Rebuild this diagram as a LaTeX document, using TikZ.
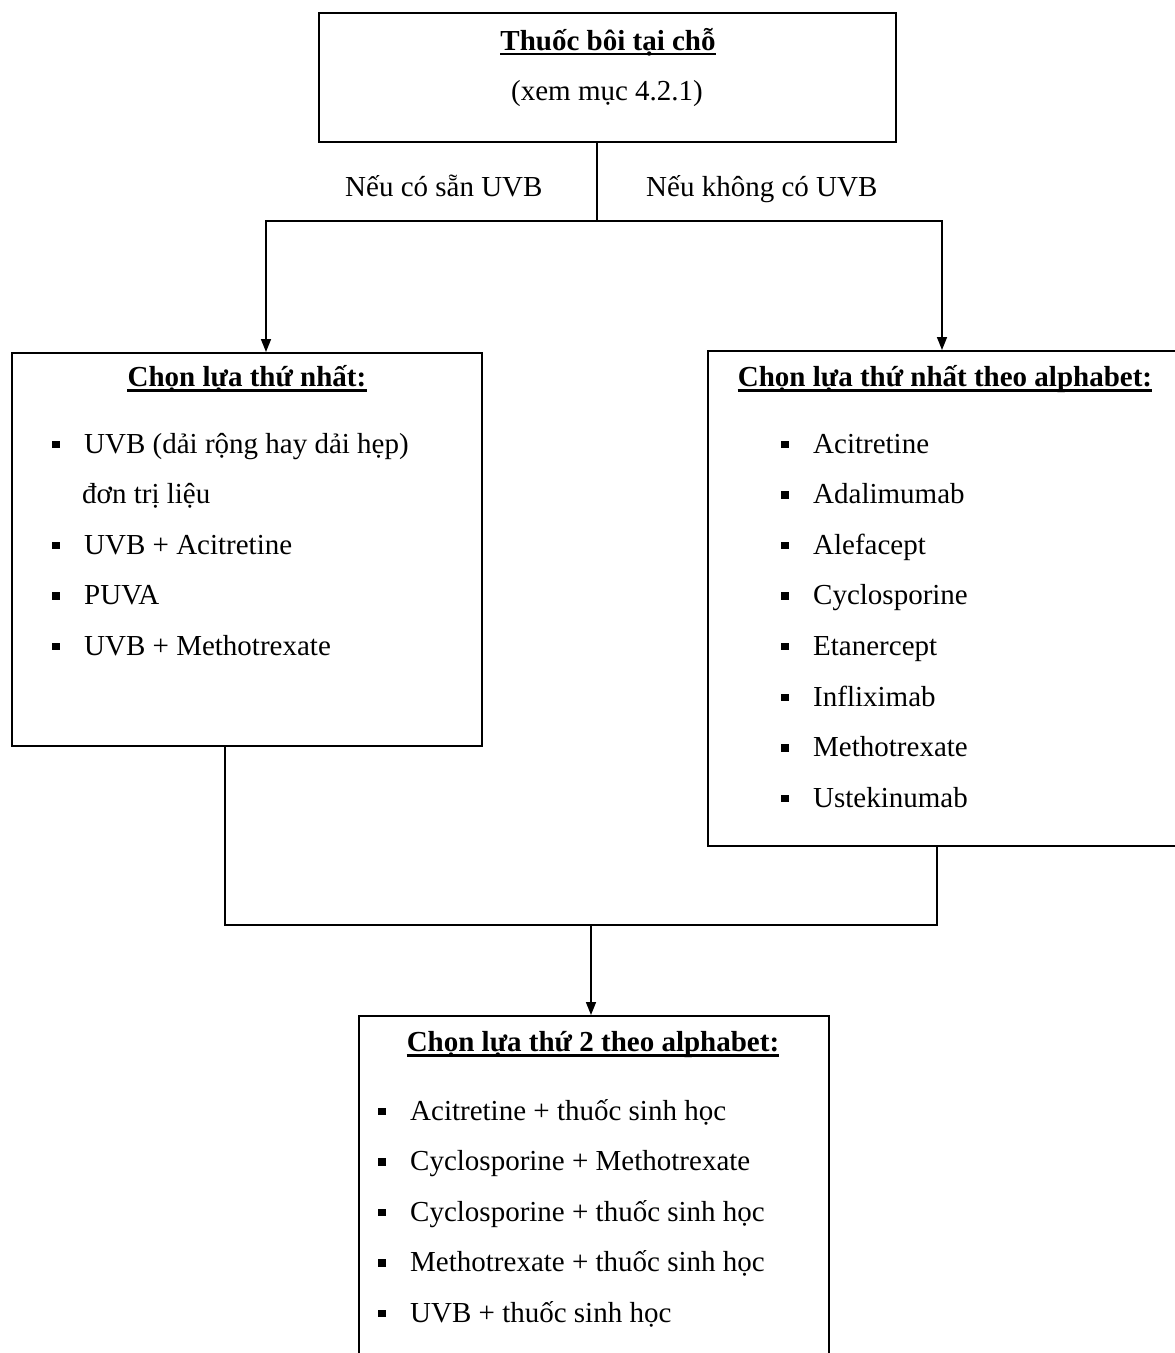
\documentclass[tikz,border=0pt]{standalone}
\usepackage{fontspec}
\setmainfont{Liberation Serif}
\usetikzlibrary{arrows.meta,calc,positioning}
\newcommand{\sqb}{\makebox[32pt][l]{\rule[5pt]{7.5pt}{7.5pt}}}
\tikzset{
  box/.style={draw, line width=1.6pt, inner sep=0pt, anchor=north west},
  head/.style={font=\fontsize{29}{35}\selectfont\bfseries, inner sep=0pt, anchor=base},
  entry/.style={font=\fontsize{29}{35}\selectfont, inner sep=0pt, anchor=base west},
  uline/.style={line width=2.2pt},
  link/.style={line width=1.6pt},
  linkarrow/.style={line width=1.6pt, -{Triangle[width=10pt,length=13pt]}}
}
\begin{document}
\begin{tikzpicture}[x=1pt,y=-1pt]
\clip (0,0) rectangle (1175,1353);
\fill[white] (0,0) rectangle (1175,1353);

\node[box, minimum width=577pt, minimum height=129pt] (topical) at (318,12) {};
\node[box, minimum width=470pt, minimum height=393pt] (first) at (11,352) {};
\node[box, minimum width=473pt, minimum height=495pt] (alpha) at (707,350) {};
\node[box, minimum width=470pt, minimum height=360pt] (second) at (358,1015) {};

\node[head] (toptitle) at (608,50) {Thuốc bôi tại chỗ};
\draw[uline] ([yshift=-4pt]toptitle.base west) -- ([yshift=-4pt]toptitle.base east);
\node[entry, anchor=base] (see) at (607,100) {(xem mục 4.2.1)};

\node[entry] (ifuvb) at (345,196) {Nếu có sẵn UVB};
\node[entry] (ifnouvb) at (646,196) {Nếu không có UVB};

\node[head] (firsttitle) at (247,386) {Chọn lựa thứ nhất:};
\draw[uline] ([yshift=-4.5pt]firsttitle.base west) -- ([yshift=-4.5pt]firsttitle.base east);
\node[entry] (f1) at (52,453) {\sqb UVB (dải rộng hay dải hẹp)};
\node[entry] (f1b) at (82,503.6) {đơn trị liệu};
\node[entry] (f2) at (52,554.2) {\sqb UVB + Acitretine};
\node[entry] (f3) at (52,604.8) {\sqb PUVA};
\node[entry] (f4) at (52,655.4) {\sqb UVB + Methotrexate};

\node[head] (alphatitle) at (945,386) {Chọn lựa thứ nhất theo alphabet:};
\draw[uline] ([yshift=-4.5pt]alphatitle.base west) -- ([yshift=-4.5pt]alphatitle.base east);
\node[entry] (a1) at (781,453) {\sqb Acitretine};
\node[entry] (a2) at (781,503.6) {\sqb Adalimumab};
\node[entry] (a3) at (781,554.2) {\sqb Alefacept};
\node[entry] (a4) at (781,604.8) {\sqb Cyclosporine};
\node[entry] (a5) at (781,655.4) {\sqb Etanercept};
\node[entry] (a6) at (781,706) {\sqb Infliximab};
\node[entry] (a7) at (781,756.6) {\sqb Methotrexate};
\node[entry] (a8) at (781,807.2) {\sqb Ustekinumab};

\node[head] (secondtitle) at (593,1051) {Chọn lựa thứ 2 theo alphabet:};
\draw[uline] ([yshift=-4.5pt]secondtitle.base west) -- ([yshift=-4.5pt]secondtitle.base east);
\node[entry] (s1) at (378,1120) {\sqb Acitretine + thuốc sinh học};
\node[entry] (s2) at (378,1170.6) {\sqb Cyclosporine + Methotrexate};
\node[entry] (s3) at (378,1221.2) {\sqb Cyclosporine + thuốc sinh học};
\node[entry] (s4) at (378,1271.8) {\sqb Methotrexate + thuốc sinh học};
\node[entry] (s5) at (378,1322.4) {\sqb UVB + thuốc sinh học};

\coordinate (split) at (597,221);
\coordinate (leftturn) at (266,221);
\coordinate (rightturn) at (942,221);
\draw[link] (topical.south -| split) -- (split);
\draw[linkarrow] (split) -- (leftturn) -- (leftturn |- first.north);
\draw[linkarrow] (split) -- (rightturn) -- (rightturn |- alpha.north);

\coordinate (leftdrop) at (225,925);
\coordinate (rightdrop) at (937,925);
\coordinate (merge) at (591,925);
\draw[link] (first.south -| leftdrop) -- (leftdrop) -- (rightdrop) -- (alpha.south -| rightdrop);
\draw[linkarrow] (merge) -- (merge |- second.north);
\end{tikzpicture}
\end{document}
